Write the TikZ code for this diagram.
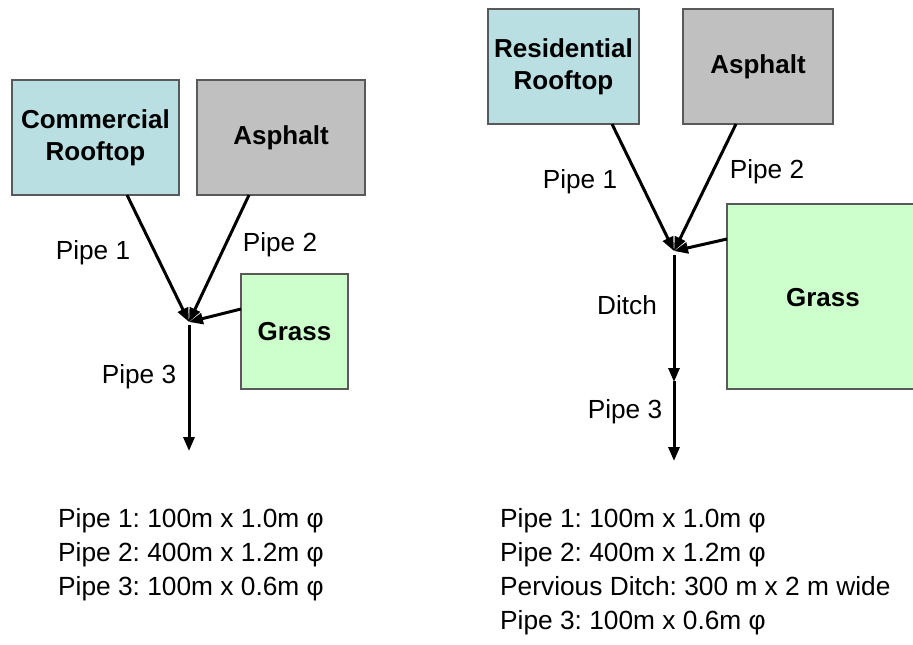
\documentclass[tikz,border=0pt]{standalone}
\usepackage{fontspec}
\setmainfont{Liberation Sans}
\usetikzlibrary{arrows.meta}
\definecolor{roofc}{RGB}{185,223,226}
\definecolor{asphc}{RGB}{192,192,192}
\definecolor{grassc}{RGB}{204,255,204}
\tikzset{
  area/.style={draw=black!65, line width=1.2pt, inner sep=0pt, align=center,
    font=\fontsize{26}{32}\selectfont\bfseries},
  boldtext/.style={inner sep=0pt, align=center, font=\fontsize{26}{32}\selectfont\bfseries},
  flow/.style={line width=3pt, -{Triangle[length=14pt,width=11pt]}},
  lbl/.style={inner sep=0pt, font=\fontsize{26.2}{32}\selectfont},
  info/.style={inner sep=0pt, anchor=base west, font=\fontsize{26.3}{32}\selectfont}
}
\begin{document}
\frenchspacing
\begin{tikzpicture}[x=1pt,y=-1pt]
\useasboundingbox (0,0) rectangle (913,645);
% ---------- left diagram ----------
\node[area, fill=roofc, minimum width=167pt, minimum height=115pt] (cr) at (95.5,137.5) {Commercial\\Rooftop};
\node[area, fill=asphc, minimum width=168pt, minimum height=115pt] (la) at (281,137.5) {Asphalt};
\node[area, fill=grassc, minimum width=107pt, minimum height=115pt] (lg) at (294.5,331.5) {Grass};
\coordinate (lj) at (189,322);
\coordinate (lp1) at (127,195);
\coordinate (lp2) at (249,195);
\coordinate (lgs) at (241,309);
\coordinate (l3s) at (189,325);
\coordinate (l3e) at (189,451);
\draw[flow] (lp1) -- (lj);
\draw[flow] (lp2) -- (lj);
\draw[flow] (lgs) -- (lj);
\draw[flow] (l3s) -- (l3e);
\node[lbl] (ll1) at (93,253) {Pipe 1};
\node[lbl] (ll2) at (280,245) {Pipe 2};
\node[lbl] (ll3) at (139,377) {Pipe 3};
\node[info] (lt1) at (58,527) {Pipe 1: 100m x 1.0m φ};
\node[info] (lt2) at (58,561) {Pipe 2: 400m x 1.2m φ};
\node[info] (lt3) at (58,595) {Pipe 3: 100m x 0.6m φ};
% ---------- right diagram ----------
\node[area, fill=roofc, minimum width=151pt, minimum height=115pt] (rr) at (563.5,66.5) {Residential\\Rooftop};
\node[area, fill=asphc, minimum width=150pt, minimum height=115pt] (ra) at (758,66.5) {Asphalt};
\node[area, fill=grassc, minimum width=188pt, minimum height=185pt] (rg) at (821,296.5) {};
\node[boldtext] (rgt) at (823,298) {Grass};
\coordinate (rj) at (674,251);
\coordinate (rp1) at (612,124);
\coordinate (rp2) at (736,124);
\coordinate (rgs) at (727,239);
\coordinate (rds) at (674,255);
\coordinate (rde) at (674,382);
\coordinate (r3s) at (674,381);
\coordinate (r3e) at (674,461);
\draw[flow] (rp1) -- (rj);
\draw[flow] (rp2) -- (rj);
\draw[flow] (rgs) -- (rj);
\draw[flow] (rds) -- (rde);
\draw[flow] (r3s) -- (r3e);
\node[lbl] (rl1) at (580,182) {Pipe 1};
\node[lbl] (rl2) at (767,172) {Pipe 2};
\node[lbl] (rld) at (627,305) {Ditch};
\node[lbl] (rl3) at (625,412) {Pipe 3};
\node[info] (rt1) at (500,527) {Pipe 1: 100m x 1.0m φ};
\node[info] (rt2) at (500,561) {Pipe 2: 400m x 1.2m φ};
\node[info] (rt3) at (500,595) {Pervious Ditch: 300 m x 2 m wide};
\node[info] (rt4) at (500,629) {Pipe 3: 100m x 0.6m φ};
\end{tikzpicture}
\end{document}
